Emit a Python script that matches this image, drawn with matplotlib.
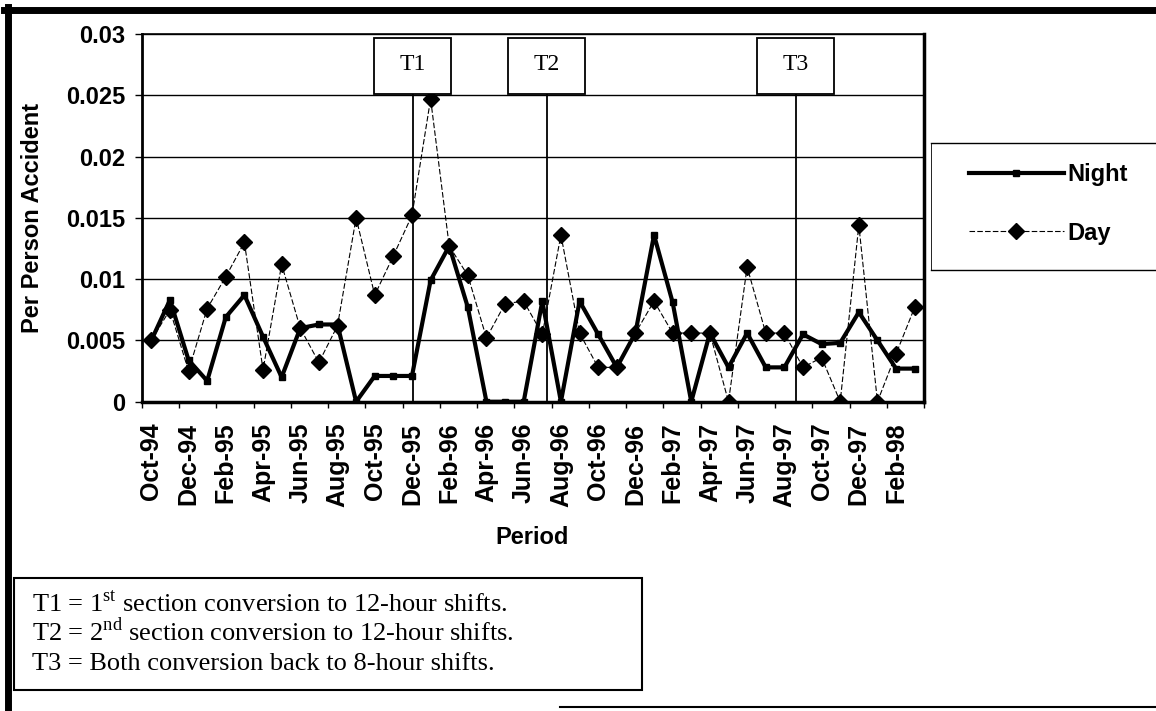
import numpy as np
import matplotlib
matplotlib.use("Agg")
import matplotlib.pyplot as plt
from matplotlib.lines import Line2D
from matplotlib.patches import Rectangle

plt.rcParams['font.family'] = ['Liberation Sans', 'DejaVu Sans']
plt.rcParams['mathtext.fontset'] = 'custom'
plt.rcParams['mathtext.rm'] = 'Liberation Serif'

# ---- data ----
months = ["Oct-94", "Nov-94", "Dec-94", "Jan-95", "Feb-95", "Mar-95", "Apr-95", "May-95",
          "Jun-95", "Jul-95", "Aug-95", "Sep-95", "Oct-95", "Nov-95", "Dec-95", "Jan-96",
          "Feb-96", "Mar-96", "Apr-96", "May-96", "Jun-96", "Jul-96", "Aug-96", "Sep-96",
          "Oct-96", "Nov-96", "Dec-96", "Jan-97", "Feb-97", "Mar-97", "Apr-97", "May-97",
          "Jun-97", "Jul-97", "Aug-97", "Sep-97", "Oct-97", "Nov-97", "Dec-97", "Jan-98",
          "Feb-98", "Mar-98"]

night = [0.0050, 0.0083, 0.0034, 0.0017, 0.0069, 0.0087, 0.0053, 0.0020, 0.0060, 0.0063,
         0.0063, 0.0000, 0.0021, 0.0021, 0.0021, 0.0099, 0.0127, 0.0077, 0.0000, 0.0000,
         0.0000, 0.0082, 0.0000, 0.0082, 0.0055, 0.0028, 0.0056, 0.0136, 0.0081, 0.0000,
         0.0056, 0.0028, 0.0056, 0.0028, 0.0028, 0.0055, 0.0047, 0.0048, 0.0073, 0.0050,
         0.0027, 0.0027]

day = [0.0050, 0.0075, 0.0025, 0.0076, 0.0102, 0.0130, 0.0026, 0.0112, 0.0060, 0.0032,
       0.0062, 0.0150, 0.0087, 0.0119, 0.0152, 0.0247, 0.0127, 0.0103, 0.0052, 0.0080,
       0.0082, 0.0055, 0.0136, 0.0056, 0.0028, 0.0028, 0.0056, 0.0082, 0.0056, 0.0056,
       0.0056, 0.0000, 0.0110, 0.0056, 0.0056, 0.0028, 0.0036, 0.0000, 0.0144, 0.0000,
       0.0039, 0.0077]

y_ticks = [0, 0.005, 0.01, 0.015, 0.02, 0.025, 0.03]
y_tick_labels = ["0", "0.005", "0.01", "0.015", "0.02", "0.025", "0.03"]

# shift change events (position in months from Oct-94)
events = ["T1", "T2", "T3"]
event_pos = [14.05, 21.23, 34.6]

notes = ["T1 = 1$^{\\mathrm{st}}$ section conversion to 12-hour shifts.",
         "T2 = 2$^{\\mathrm{nd}}$ section conversion to 12-hour shifts.",
         "T3 = Both conversion back to 8-hour shifts."]

# ---- figure ----
W, H = 1156, 711
fig = plt.figure(figsize=(W / 100, H / 100), dpi=100)
ax = fig.add_axes([142 / W, 1 - 401.7 / H, 782 / W, (401.7 - 34) / H])

x = np.arange(len(months))
ax.plot(x, night, color='black', lw=3, marker='s', ms=5, label='Night', zorder=4)
ax.plot(x, day, color='black', lw=0.8, ls=(0, (5, 2)), marker='D', ms=8,
        label='Day', zorder=3)

ax.set_xlim(-0.5, len(months) - 0.5)
ax.set_ylim(0, 0.03)

ax.set_yticks(y_ticks)
ax.set_yticklabels(y_tick_labels, fontsize=17, fontweight='bold')
ax.tick_params(axis='y', length=5, width=1, pad=7)
ax.yaxis.grid(True, color='black', lw=1)
ax.set_axisbelow(True)

ax.set_xticks(x[::2])
ax.set_xticklabels(months[::2], rotation=90, fontsize=18, fontweight='bold')
ax.set_xticks(np.arange(-0.5, len(months), 2), minor=True)
ax.tick_params(axis='x', which='major', length=0, pad=15)
ax.tick_params(axis='x', which='minor', length=4, width=1)

ax.spines['left'].set_linewidth(2)
ax.spines['bottom'].set_linewidth(2.5)
ax.spines['right'].set_linewidth(2.5)
ax.spines['top'].set_linewidth(1.2)

# T markers
for name, pos in zip(events, event_pos):
    ax.plot([pos, pos], [0, 0.0251], color='black', lw=1.3, zorder=5)
    ax.add_patch(Rectangle((pos - 2.07, 0.0251), 4.14, 0.0046, facecolor='white',
                           edgecolor='black', lw=1.3, zorder=6, clip_on=False))
    ax.text(pos, 0.02755, name, ha='center', va='center', fontsize=17,
            family='Liberation Serif', zorder=7)

fig.text(33 / W, 1 - 218 / H, "Per Person Accident", rotation=90, ha='center',
         va='center', fontsize=17, fontweight='bold')
fig.text(532 / W, 1 - 537 / H, "Period", ha='center', va='center',
         fontsize=17, fontweight='bold')

# legend
leg = ax.legend(loc='center left', bbox_to_anchor=(948 / W, 1 - 204 / H),
                bbox_transform=fig.transFigure, frameon=False, handlelength=4.0,
                handletextpad=0.15, labelspacing=1.5,
                prop={'size': 17, 'weight': 'bold'})


def fig_line(xs, ys, lw=1.0):
    fig.add_artist(Line2D([v / W for v in xs], [1 - v / H for v in ys],
                          transform=fig.transFigure, color='black', lw=lw))


fig_line([931, W], [143, 143])
fig_line([931, W], [270, 270])
fig_line([931, 931], [143, 270], lw=0.6)

# outer frame
fig_line([4, W], [10, 10], lw=5)
fig_line([8, 8], [7, H], lw=5)
fig_line([560, W], [707, 707], lw=1.5)

# notes box
fig.add_artist(Rectangle((14 / W, 1 - 690 / H), (642 - 14) / W, (690 - 578) / H,
                         fill=False, edgecolor='black', lw=1.5,
                         transform=fig.transFigure))
for i, line in enumerate(notes):
    fig.text(32 / W, 1 - (612 + 29 * i) / H, line, ha='left', va='baseline',
             fontsize=19, family='Liberation Serif')

fig.savefig("out.png", dpi=100)
